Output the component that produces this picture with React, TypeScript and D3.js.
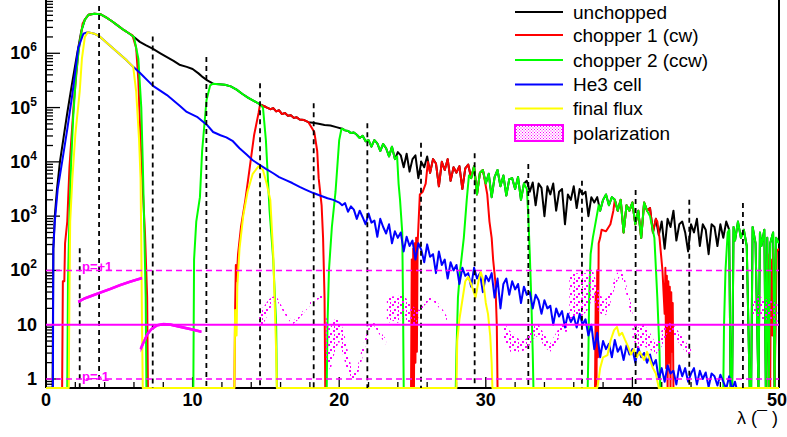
import React from "react";
import * as d3 from "d3";

type Pt = [number, number | null];
type PolPt = [number, number, number];

function span(pts: Pt[], a: number, b: number): Pt[] {
  return pts.filter((p) => p[0] >= a && p[0] <= b);
}

const xMajorTicks = [0, 10, 20, 30, 40, 50];
const xMinorTicks = [2, 4, 6, 8, 12, 14, 16, 18, 22, 24, 26, 28, 32, 34, 36, 38, 42, 44, 46, 48];
const yDecadeExps = [0, 1, 2, 3, 4, 5, 6];

const legendLabels = ["unchopped", "chopper 1 (cw)", "chopper 2 (ccw)", "He3 cell", "final flux", "polarization"];
const seriesColors = ["#000000", "#ff0000", "#00ff00", "#0000ff", "#ffff00", "#ff00ff"];

// log10 of counts vs wavelength (null = empty bin)
const unchoppedLog: Pt[] = [
  [0, null], [0.45, null], [0.5, 2.4], [0.6, 3.0], [0.75, 3.5], [0.95, 4.0], [1.2, 4.45], [1.45, 4.9], [1.75, 5.4],
  [2.1, 5.95], [2.4, 6.4], [2.65, 6.62], [2.9, 6.71], [3.3, 6.73], [3.7, 6.72], [4.1, 6.66], [4.5, 6.59], [4.9, 6.51],
  [5.3, 6.43], [5.7, 6.36], [6.0, 6.3], [6.4, 6.21], [6.8, 6.15], [7.3, 6.08], [7.8, 6.0], [8.25, 5.93], [8.7, 5.86],
  [9.1, 5.79], [9.6, 5.75], [10.0, 5.71], [10.4, 5.63], [10.7, 5.56], [11.0, 5.5], [11.4, 5.44], [11.8, 5.43],
  [12.2, 5.42], [12.6, 5.39], [13.0, 5.33], [13.4, 5.25], [13.8, 5.18], [14.2, 5.12], [14.6, 5.06], [15.0, 5.01],
  [15.3, 4.97], [15.5, 4.99], [15.7, 4.93], [15.9, 4.95], [16.1, 4.88], [16.3, 4.9], [16.5, 4.85], [16.7, 4.86],
  [16.9, 4.81], [17.1, 4.82], [17.3, 4.78], [17.6, 4.77], [17.9, 4.73], [18.2, 4.72], [18.6, 4.7], [19.0, 4.68],
  [19.4, 4.67], [19.8, 4.64], [20.2, 4.61], [20.4, 4.58], [20.6, 4.57], [20.8, 4.53],
  [21.0, 4.54], [21.2, 4.5], [21.4, 4.44], [21.6, 4.48], [21.8, 4.38], [22.0, 4.4], [22.2, 4.28], [22.4, 4.4],
  [22.6, 4.34], [22.8, 4.2], [23.0, 4.33], [23.2, 4.25], [23.4, 4.1], [23.6, 4.28], [23.8, 4.05], [24.0, 4.18],
  [24.2, 4.12], [24.4, 3.9], [24.6, 4.15], [24.8, 3.82], [25.0, 4.05], [25.2, 4.12], [25.4, 3.7], [25.6, 4.0],
  [25.8, 3.9], [26.0, 4.1], [26.2, 3.8], [26.4, 4.05], [26.6, 3.97], [26.8, 3.55], [27.0, 4.0], [27.2, 3.85],
  [27.4, 4.05], [27.6, 3.65], [27.8, 3.9], [28.0, 3.8], [28.2, 3.92], [28.4, 3.5], [28.6, 3.88], [28.8, 3.95],
  [29.0, 3.7], [29.2, 3.92], [29.4, 3.4], [29.6, 3.8], [29.8, 3.85], [30.0, 3.6], [30.2, 3.78], [30.4, 3.35],
  [30.6, 3.72], [30.8, 3.85], [31.0, 3.55], [31.2, 3.75], [31.4, 3.38], [31.6, 3.68], [31.8, 3.7], [32.0, 3.5],
  [32.2, 3.72], [32.4, 3.3], [32.6, 3.6], [32.8, 3.65], [33.0, 3.45], [33.2, 3.62], [33.4, 3.2], [33.6, 3.6],
  [33.8, 3.52], [34.0, 3.0], [34.2, 3.55], [34.4, 3.4], [34.6, 3.6], [34.8, 3.1], [35.0, 3.45], [35.2, 3.5],
  [35.4, 2.85], [35.6, 3.4], [35.8, 3.3], [36.0, 3.55], [36.2, 3.15], [36.4, 3.5], [36.6, 3.4], [36.8, 3.45],
  [37.0, 3.0], [37.2, 3.35], [37.4, 3.25], [37.6, 3.35], [37.8, 3.1], [38.0, 3.3], [38.2, 3.4], [38.4, 3.2],
  [38.6, 3.35], [38.8, 3.3], [39.0, 3.1], [39.2, 3.3], [39.4, 2.7], [39.6, 3.2], [39.8, 3.1], [40.0, 3.25],
  [40.2, 2.85], [40.4, 3.1], [40.6, 2.6], [40.8, 3.25], [41.0, 3.1], [41.2, 3.15], [41.4, 2.7], [41.6, 2.95],
  [41.8, 2.65], [42.0, 2.9], [42.2, 2.4], [42.4, 2.95], [42.6, 2.8], [42.8, 3.1], [43.0, 2.55], [43.2, 2.85],
  [43.4, 2.9], [43.6, 2.7], [43.8, 2.35], [44.0, 2.85], [44.2, 2.7], [44.4, 2.95], [44.6, 2.45], [44.8, 2.85],
  [45.0, 2.75], [45.2, 2.3], [45.4, 2.85], [45.6, 2.8], [45.8, 2.45], [46.0, 2.85], [46.2, 2.6], [46.4, 2.9],
  [46.6, 2.75], [46.7, null], [46.8, null], [46.9, 2.8], [47.0, 2.55], [47.2, 2.9], [47.4, 2.6], [47.6, 2.75],
  [47.8, 2.45], [48.0, null], [48.1, null], [48.2, 2.8], [48.4, 2.5], [48.6, null], [48.7, 2.7], [48.8, 2.45],
  [49.0, 2.75], [49.1, null], [49.2, 2.6], [49.3, null], [49.4, 2.5], [49.6, 2.7], [49.7, null], [49.8, 2.6], [50.0, 2.5],
];

const he3CellLog: Pt[] = [
  [0, null], [0.47, null], [0.5, 2.4], [0.6, 2.9], [0.8, 3.5], [1.1, 4.0], [1.45, 4.6], [1.8, 5.25], [2.2, 6.1],
  [2.55, 6.36], [2.85, 6.39], [3.3, 6.36], [3.7, 6.3], [4.16, 6.19], [4.84, 6.03], [5.5, 5.87], [5.95, 5.75],
  [6.4, 5.64], [7.3, 5.4], [8.25, 5.23], [9.14, 5.03], [9.6, 4.92], [10.3, 4.83], [10.98, 4.68], [11.4, 4.55],
  [11.9, 4.49], [12.3, 4.45], [12.75, 4.38], [13.2, 4.25], [13.7, 4.13], [14.1, 4.03], [14.6, 3.94], [15.0, 3.87],
  [15.5, 3.79], [15.9, 3.72], [16.4, 3.66], [16.8, 3.61], [17.3, 3.54], [17.7, 3.49], [18.2, 3.43], [18.6, 3.39],
  [19.2, 3.33], [19.6, 3.3], [20.0, 3.25],
  [20.2, 3.2], [20.4, 3.24], [20.6, 3.08], [20.8, 3.18], [21.0, 3.12], [21.2, 2.95], [21.4, 3.1], [21.6, 2.98],
  [21.8, 2.85], [22.0, 3.05], [22.2, 2.88], [22.4, 2.92], [22.6, 2.62], [22.8, 2.95], [23.0, 2.8], [23.2, 2.68],
  [23.4, 2.85], [23.6, 2.5], [23.8, 2.72], [24.0, 2.6], [24.2, 2.7], [24.4, 2.35], [24.6, 2.62], [24.8, 2.45],
  [25.0, 2.55], [25.2, 2.2], [25.4, 2.5], [25.6, 2.38], [25.8, 2.15], [26.0, 2.48], [26.2, 2.25], [26.4, 2.3],
  [26.6, 1.95], [26.8, 2.35], [27.0, 2.1], [27.2, 2.2], [27.4, 1.85], [27.6, 2.15], [27.8, 2.0], [28.0, 2.1],
  [28.2, 1.75], [28.4, 2.05], [28.6, 1.9], [28.8, 1.95], [29.0, 1.7], [29.2, 2.05], [29.4, 1.85], [29.6, 1.95],
  [29.8, 1.6], [30.0, 1.9], [30.2, 1.8], [30.4, 1.95], [30.6, 1.5], [30.8, 1.85], [31.0, 1.3], [31.2, 1.75],
  [31.4, 1.85], [31.6, 1.55], [31.8, 1.8], [32.0, 1.65], [32.2, 1.75], [32.4, 1.4], [32.6, 1.7], [32.8, 1.55],
  [33.0, 1.6], [33.2, 1.3], [33.4, 1.55], [33.6, 1.45], [33.8, 1.2], [34.0, 1.45], [34.2, 1.3], [34.4, 1.35],
  [34.6, 1.0], [34.8, 1.3], [35.0, 1.15], [35.2, 1.25], [35.4, 0.95], [35.6, 1.2], [35.8, 1.05], [36.0, 1.15],
  [36.2, 0.95], [36.4, 1.2], [36.6, 1.0], [36.8, 1.1], [37.0, 0.8], [37.2, 1.0], [37.4, 0.55], [37.6, 0.85],
  [37.8, 0.4], [38.0, 0.7], [38.2, 0.55], [38.4, 0.65], [38.6, 0.4], [38.8, 0.72], [39.0, 0.5], [39.2, 0.6],
  [39.4, 0.35], [39.6, 0.62], [39.8, 0.45], [40.0, 0.55], [40.2, 0.3], [40.4, 0.58], [40.6, 0.4], [40.8, 0.48],
  [41.0, 0.3], [41.2, 0.45], [41.4, 0.25], [41.6, 0.35], [41.8, 0.0], [42.0, 0.2], [42.2, -0.05], [42.4, 0.25],
  [42.6, 0.1], [42.8, 0.15], [43.0, -0.1], [43.2, 0.25], [43.4, 0.05], [43.6, 0.2], [43.8, -0.05], [44.0, 0.1],
  [44.2, 0.2], [44.4, -0.1], [44.6, 0.15], [44.8, 0.0], [45.0, 0.12], [45.2, -0.15], [45.4, 0.1], [45.6, 0.05],
  [45.8, -0.12], [46.0, 0.08], [46.2, -0.05], [46.4, -0.18], [46.6, 0.05], [46.8, -0.2], [47.0, -0.05],
  [47.1, null], [50, null],
];

const chopper1Log: Pt[] = [
  [0, null], [1.1, null], [1.15, 1.8], [1.25, 1.8], [1.3, 2.5], [1.45, 2.9], [1.6, 3.9], [1.9, 5.1], [2.2, 6.0], [2.5, 6.55],
  ...span(unchoppedLog, 2.6, 5.8),
  [5.9, 6.33], [6.15, 6.1], [6.3, 5.5], [6.45, 4.4], [6.6, 3.5], [6.75, 2.7], [6.9, 1.5], [6.95, null],
  [12.85, null], [12.9, 1.3], [12.95, 2.1], [13.0, 1.8], [13.1, 2.3], [13.3, 2.8], [13.6, 3.3], [13.9, 3.9], [14.2, 4.5], [14.5, 4.9],
  ...span(unchoppedLog, 14.6, 18.0),
  [18.3, 4.55], [18.5, 4.2], [18.6, 3.7], [18.8, 3.2], [18.9, 2.6], [19.0, 1.5], [19.05, null],
  [24.9, null], [24.95, 2.2], [25.0, null], [25.05, 2.4], [25.1, null], [25.15, 2.5], [25.2, 0.3], [25.25, 2.6], [25.3, 0.5],
  [25.35, 2.5], [25.4, 2.8], [25.5, 3.4], [25.7, 3.45], [25.9, 3.6], [26.05, 4.0],
  ...span(unchoppedLog, 26.2, 29.9),
  [30.1, 3.4], [30.25, 2.9], [30.4, 2.6], [30.5, 2.2], [30.65, 1.8], [30.75, 1.0], [30.8, null],
  [37.45, null], [37.5, 1.6], [37.55, null], [37.6, 2.0], [37.65, 0.4], [37.7, 2.5], [37.8, 2.6], [37.9, 2.75], [38.2, 2.72],
  [38.5, 2.85], [38.7, 3.1],
  ...span(unchoppedLog, 38.8, 41.6),
  [41.7, 2.9], [41.85, 2.6], [41.95, 2.3], [42.05, 2.0], [42.2, 1.2], [42.25, 2.05], [42.3, 0.2], [42.35, 1.9], [42.4, null],
  [42.45, 1.8], [42.5, 0.3], [42.55, 1.7], [42.6, null], [42.65, 1.6], [42.7, 0.5], [42.75, 1.4], [42.8, null],
  [49.3, null], [49.35, 2.3], [49.4, null], [49.45, 2.2], [49.55, 0.8], [49.6, 2.4], [49.7, null], [49.85, 2.35], [50, 2.4],
];

const chopper2Log: Pt[] = [
  [0, null], [1.45, null], [1.5, 1.8], [1.6, 3.0], [1.7, 3.9], [1.85, 4.8], [2.05, 5.6], [2.25, 6.1], [2.45, 6.45],
  ...span(unchoppedLog, 2.6, 6.0),
  [6.3, 5.9], [6.5, 5.0], [6.6, 4.0], [6.7, 2.8], [6.8, 1.5], [6.85, null],
  [10.05, null], [10.1, 2.2], [10.25, 2.9], [10.5, 3.35], [10.65, 4.2], [10.95, 5.14], [11.2, 5.41],
  ...span(unchoppedLog, 11.3, 14.7),
  [14.8, 5.0], [15.0, 4.4], [15.25, 3.1], [15.5, 2.2], [15.7, 1.0], [15.75, null],
  [19.15, null], [19.2, 1.0], [19.3, 2.0], [19.5, 2.8], [19.75, 3.45], [20.0, 4.4], [20.15, 4.6],
  ...span(unchoppedLog, 20.2, 23.9),
  [23.95, 4.1], [24.05, 3.6], [24.15, 3.3], [24.3, 2.7], [24.35, 1.5], [24.4, null],
  [27.95, null], [28.0, 0.5], [28.1, 1.5], [28.25, 2.0], [28.5, 2.6], [28.7, 3.3], [28.85, 3.75],
  ...span(unchoppedLog, 28.9, 32.7),
  [32.8, 3.5], [32.9, 3.0], [33.0, 2.3], [33.1, 1.5], [33.2, 0.5], [33.25, null],
  [36.95, null], [37.0, 0.5], [37.05, 1.5], [37.15, 2.3], [37.3, 2.6], [37.5, 2.9], [37.7, 3.2],
  ...span(unchoppedLog, 37.8, 41.1),
  [41.2, 3.0], [41.5, 2.6], [41.7, 1.5], [41.85, 0.5], [41.9, null],
  [46.2, null], [46.25, 1.0], [46.35, 2.0], [46.5, 2.7],
  ...span(unchoppedLog, 46.55, 50),
];

const finalFluxLog: Pt[] = [
  [0, null], [1.55, null], [1.6, 1.6], [1.65, 2.9], [1.8, 3.7], [2.0, 4.5], [2.3, 5.3], [2.45, 5.9], [2.65, 6.3],
  ...span(he3CellLog, 2.7, 5.96),
  [6.15, 5.3], [6.35, 4.4], [6.45, 3.7], [6.5, 2.5], [6.55, 1.0], [6.6, null],
  [12.85, null], [12.9, 1.27], [12.95, 0.9], [13.0, 0.8], [13.05, 1.7], [13.2, 2.4], [13.45, 3.0], [13.75, 3.45],
  [14.1, 3.78], [14.5, 3.92], [14.8, 3.85], [15.05, 3.6], [15.3, 3.3], [15.5, 2.3], [15.6, 1.4], [15.7, 0.5], [15.75, null],
  [28.0, null], [28.05, 0.7], [28.2, 1.1], [28.4, 1.45], [28.6, 1.8], [28.8, 1.88], [29.0, 1.75], [29.3, 1.5],
  [29.5, 1.8], [29.65, 1.97], [29.8, 1.85], [30.0, 1.4], [30.15, 1.2], [30.3, 0.8], [30.4, 0.3], [30.45, null],
  [37.6, null], [37.65, -0.1], [37.8, 0.2], [38.0, 0.4], [38.3, 0.44], [38.5, 0.7], [38.75, 0.9], [38.95, 0.96],
  [39.1, 0.8], [39.3, 0.85], [39.5, 0.72], [39.7, 0.6], [39.9, 0.45], [40.1, 0.55], [40.3, 0.4], [40.5, 0.5],
  [40.8, 0.35], [41.0, 0.5], [41.2, 0.35], [41.4, 0.2], [41.6, 0.1], [41.75, -0.1], [41.8, null], [50, null],
];

// polarization segments: [lambda, p, error]; drawn at 10^(1+p)
const polLineSegs: PolPt[][] = [
  [[2.2, 0.42, 0.025], [2.6, 0.48, 0.025], [3.0, 0.52, 0.025], [3.7, 0.59, 0.025], [4.4, 0.66, 0.025],
   [5.05, 0.73, 0.025], [5.7, 0.79, 0.025], [6.2, 0.83, 0.025], [6.55, 0.86, 0.025]],
  [[6.45, -0.45, 0.06], [6.7, -0.3, 0.05], [6.9, -0.18, 0.04], [7.2, -0.08, 0.03], [7.6, -0.01, 0.025],
   [8.0, 0.01, 0.025], [8.5, 0.0, 0.025], [9.0, -0.03, 0.025], [9.5, -0.06, 0.025], [10.0, -0.09, 0.025],
   [10.6, -0.13, 0.025]],
];
const polBandSegs: PolPt[][] = [
  [[14.55, 0.1, 0.15], [14.9, 0.2, 0.15], [15.2, 0.35, 0.12], [15.5, 0.47, 0.05], [15.75, 0.48, 0.03],
   [16.0, 0.35, 0.03], [16.4, 0.17, 0.03], [16.8, 0.03, 0.03], [17.2, 0.12, 0.03], [17.6, 0.25, 0.03],
   [18.0, 0.38, 0.03], [18.4, 0.47, 0.025], [18.7, 0.51, 0.025], [19.0, 0.51, 0.025]],
  [[19.1, -0.25, 0.4], [19.4, -0.45, 0.4], [19.7, -0.2, 0.3], [20.0, -0.1, 0.2], [20.3, -0.35, 0.25],
   [20.6, -0.7, 0.2], [20.9, -0.92, 0.06], [21.2, -0.9, 0.08], [21.5, -0.6, 0.1], [21.8, -0.3, 0.08],
   [22.1, -0.02, 0.04], [22.4, 0.0, 0.03], [22.7, -0.12, 0.04], [23.0, -0.25, 0.05], [23.2, -0.32, 0.05]],
  [[23.25, 0.25, 0.25], [23.6, 0.3, 0.22], [24.0, 0.28, 0.25], [24.4, 0.35, 0.2], [24.8, 0.2, 0.2],
   [25.2, 0.15, 0.15], [25.5, 0.23, 0.04], [25.8, 0.38, 0.03], [26.2, 0.49, 0.03], [26.6, 0.42, 0.03],
   [27.0, 0.27, 0.04], [27.4, 0.09, 0.04]],
  [[31.2, -0.1, 0.15], [31.6, -0.3, 0.2], [32.0, -0.35, 0.15], [32.4, -0.4, 0.1], [32.8, -0.35, 0.1],
   [33.2, -0.15, 0.12], [33.6, -0.1, 0.1], [34.0, -0.3, 0.12], [34.4, -0.42, 0.08], [34.8, -0.25, 0.1],
   [35.2, -0.05, 0.08], [35.6, -0.05, 0.08]],
  [[35.7, 0.5, 0.4], [36.1, 0.55, 0.4], [36.5, 0.55, 0.4], [36.9, 0.6, 0.35], [37.3, 0.75, 0.25],
   [37.7, 0.45, 0.2], [38.0, 0.3, 0.15], [38.3, 0.35, 0.15], [38.6, 0.6, 0.1], [38.9, 0.85, 0.08],
   [39.2, 0.97, 0.05], [39.5, 0.75, 0.08], [39.8, 0.4, 0.1], [40.0, 0.2, 0.1]],
  [[40.0, -0.1, 0.15], [40.4, -0.25, 0.2], [40.8, -0.2, 0.2], [41.2, -0.3, 0.15], [41.6, -0.45, 0.1],
   [42.0, -0.25, 0.15], [42.4, -0.05, 0.1], [42.8, -0.1, 0.1], [43.2, -0.25, 0.1], [43.6, -0.4, 0.1],
   [44.0, -0.5, 0.05]],
  [[48.2, 0.3, 0.15], [48.6, 0.35, 0.2], [49.0, 0.25, 0.2], [49.4, 0.3, 0.2], [49.9, 0.2, 0.2]],
];

// chopper opening markers (lambda, log10 of top)
const markLambda = [2.3, 3.62, 7.28, 10.94, 14.6, 18.26, 21.92, 25.58, 29.24, 32.9, 36.56, 40.22, 43.88, 47.54];
const markTopLog = [2.41, 6.87, 6.31, 5.93, 5.45, 5.08, 4.71, 4.35, 4.16, 3.96, 3.65, 3.48, 3.3, 3.24];

const FONT = "'Liberation Sans', Arial, Helvetica, sans-serif";

export default function App() {
  const L = 46, R = 779, T = -1, B = 388;
  const x = d3.scaleLinear().domain([0, 50]).range([L, R]);
  const y = d3.scaleLog().domain([Math.pow(10, -0.166), 1e7]).range([B, T]);
  const ly = (v: number | null) => (v == null ? B : y(Math.pow(10, v)));
  const py = (p: number) => y(Math.pow(10, 1 + p));

  const line = d3.line<Pt>().x((d) => x(d[0])).y((d) => ly(d[1]));
  const polLine = d3.line<PolPt>().x((d) => x(d[0])).y((d) => py(d[1]));
  const polArea = d3
    .area<PolPt>()
    .x((d) => x(d[0]))
    .y0((d) => py(d[1] - d[2]))
    .y1((d) => py(d[1] + d[2]));

  const series = [unchoppedLog, chopper1Log, chopper2Log, he3CellLog, finalFluxLog];

  const yMinor: number[] = [];
  for (let e = -1; e <= 6; e++) {
    for (let m = 2; m <= 9; m++) {
      const v = m * Math.pow(10, e);
      if (v >= Math.pow(10, -0.166) && v <= 1e7) yMinor.push(v);
    }
  }

  const legendRows = [12, 35, 60, 84.5, 108.5, 133];

  return (
    <svg
      width={787}
      height={437}
      style={{ position: "absolute", left: 0, top: 0, background: "#fff" }}
      fontFamily={FONT}
    >
      <defs>
        <clipPath id="plotClip">
          <rect x={L} y={T} width={R - L} height={B - T + 1} />
        </clipPath>
        <pattern id="polDots" width={8} height={8} patternUnits="userSpaceOnUse">
          <rect x={0} y={0} width={2} height={2} fill="#ff00ff" />
          <rect x={5} y={2} width={2} height={2} fill="#ff00ff" />
          <rect x={2} y={5} width={2} height={2} fill="#ff00ff" />
          <rect x={6} y={6} width={1} height={2} fill="#ff00ff" />
        </pattern>
        <pattern id="legDots" width={3} height={3} patternUnits="userSpaceOnUse">
          <rect x={0} y={0} width={1} height={1} fill="#ff00ff" />
          <rect x={1.5} y={1.5} width={1} height={1} fill="#ff00ff" />
        </pattern>
      </defs>
      <rect x={0} y={0} width={787} height={437} fill="#fff" />

      {/* axes frame */}
      <line x1={L} y1={T} x2={L} y2={B} stroke="#000" strokeWidth={2} />
      <line x1={L} y1={B} x2={R} y2={B} stroke="#000" strokeWidth={2} />
      <line x1={R} y1={T} x2={R} y2={B} stroke="#000" strokeWidth={2} />

      {/* y ticks */}
      {yDecadeExps.map((e) => (
        <line key={"ym" + e} x1={L} x2={L + 14} y1={y(Math.pow(10, e))} y2={y(Math.pow(10, e))} stroke="#000" strokeWidth={1.3} />
      ))}
      {yMinor.map((v, i) => (
        <line key={"yn" + i} x1={L} x2={L + 7} y1={y(v)} y2={y(v)} stroke="#000" strokeWidth={1.3} />
      ))}
      {/* x ticks */}
      {xMajorTicks.map((t) => (
        <line key={"xm" + t} x1={x(t)} x2={x(t)} y1={B} y2={B - 11} stroke="#000" strokeWidth={1.3} />
      ))}
      {xMinorTicks.map((t) => (
        <line key={"xn" + t} x1={x(t)} x2={x(t)} y1={B} y2={B - 6} stroke="#000" strokeWidth={1.3} />
      ))}

      {/* y labels */}
      {yDecadeExps.map((e) => (
        <text key={"yl" + e} x={37} y={y(Math.pow(10, e)) + 6} textAnchor="end" fontSize={18} fontWeight="bold" fill="#000">
          {e === 0 ? "1" : e === 1 ? "10" : (
            <>
              10
              <tspan fontSize={12} dy={-8}>{e}</tspan>
            </>
          )}
        </text>
      ))}
      {/* x labels */}
      {xMajorTicks.map((t) => (
        <text key={"xl" + t} x={t === 50 ? x(t) - 2 : x(t)} y={406} textAnchor="middle" fontSize={18} fontWeight="bold" fill="#000">
          {t}
        </text>
      ))}
      <text x={778} y={424} textAnchor="end" fontSize={18} fill="#000">λ (¯ )</text>

      {/* curves */}
      <g clipPath="url(#plotClip)">
        {series.map((s, i) => (
          <path key={"s" + i} d={line(s) || ""} fill="none" stroke={seriesColors[i]} strokeWidth={2} strokeLinejoin="round" />
        ))}

        {/* chopper markers */}
        {markLambda.map((l, i) => (
          <line key={"mk" + i} x1={x(l)} x2={x(l)} y1={ly(markTopLog[i])} y2={B} stroke="#000" strokeWidth={1.8} strokeDasharray="5 4" />
        ))}

        {/* polarization reference lines */}
        <line x1={L} x2={R} y1={py(1)} y2={py(1)} stroke="#ff00ff" strokeWidth={1.5} strokeDasharray="6 4" />
        <line x1={L} x2={R} y1={py(-1)} y2={py(-1)} stroke="#ff00ff" strokeWidth={1.5} strokeDasharray="6 4" />
        <line x1={L} x2={R} y1={py(0)} y2={py(0)} stroke="#ff00ff" strokeWidth={2} />

        {polLineSegs.map((s, i) => (
          <g key={"pl" + i}>
            <path d={polArea(s) || ""} fill="#ff00ff" />
            <path d={polLine(s) || ""} fill="none" stroke="#ff00ff" strokeWidth={2.5} />
          </g>
        ))}
        {polBandSegs.map((s, i) => (
          <path key={"pb" + i} d={polArea(s) || ""} fill="url(#polDots)" />
        ))}
      </g>

      <text x={82} y={271} fontSize={13} fontWeight="bold" fill="#ff00ff">p=+1</text>
      <text x={82} y={381} fontSize={13} fontWeight="bold" fill="#ff00ff">p=-1</text>

      {/* legend */}
      {legendLabels.map((lab, i) => (
        <g key={"lg" + i}>
          {i < 5 ? (
            <line x1={515} x2={563} y1={legendRows[i]} y2={legendRows[i]} stroke={seriesColors[i]} strokeWidth={2} />
          ) : (
            <rect x={515} y={legendRows[i] - 8} width={48} height={16} fill="url(#legDots)" stroke="#ff00ff" strokeWidth={2} />
          )}
          <text x={573} y={legendRows[i] + 6.5} fontSize={19} fill="#000">{lab}</text>
        </g>
      ))}
    </svg>
  );
}
